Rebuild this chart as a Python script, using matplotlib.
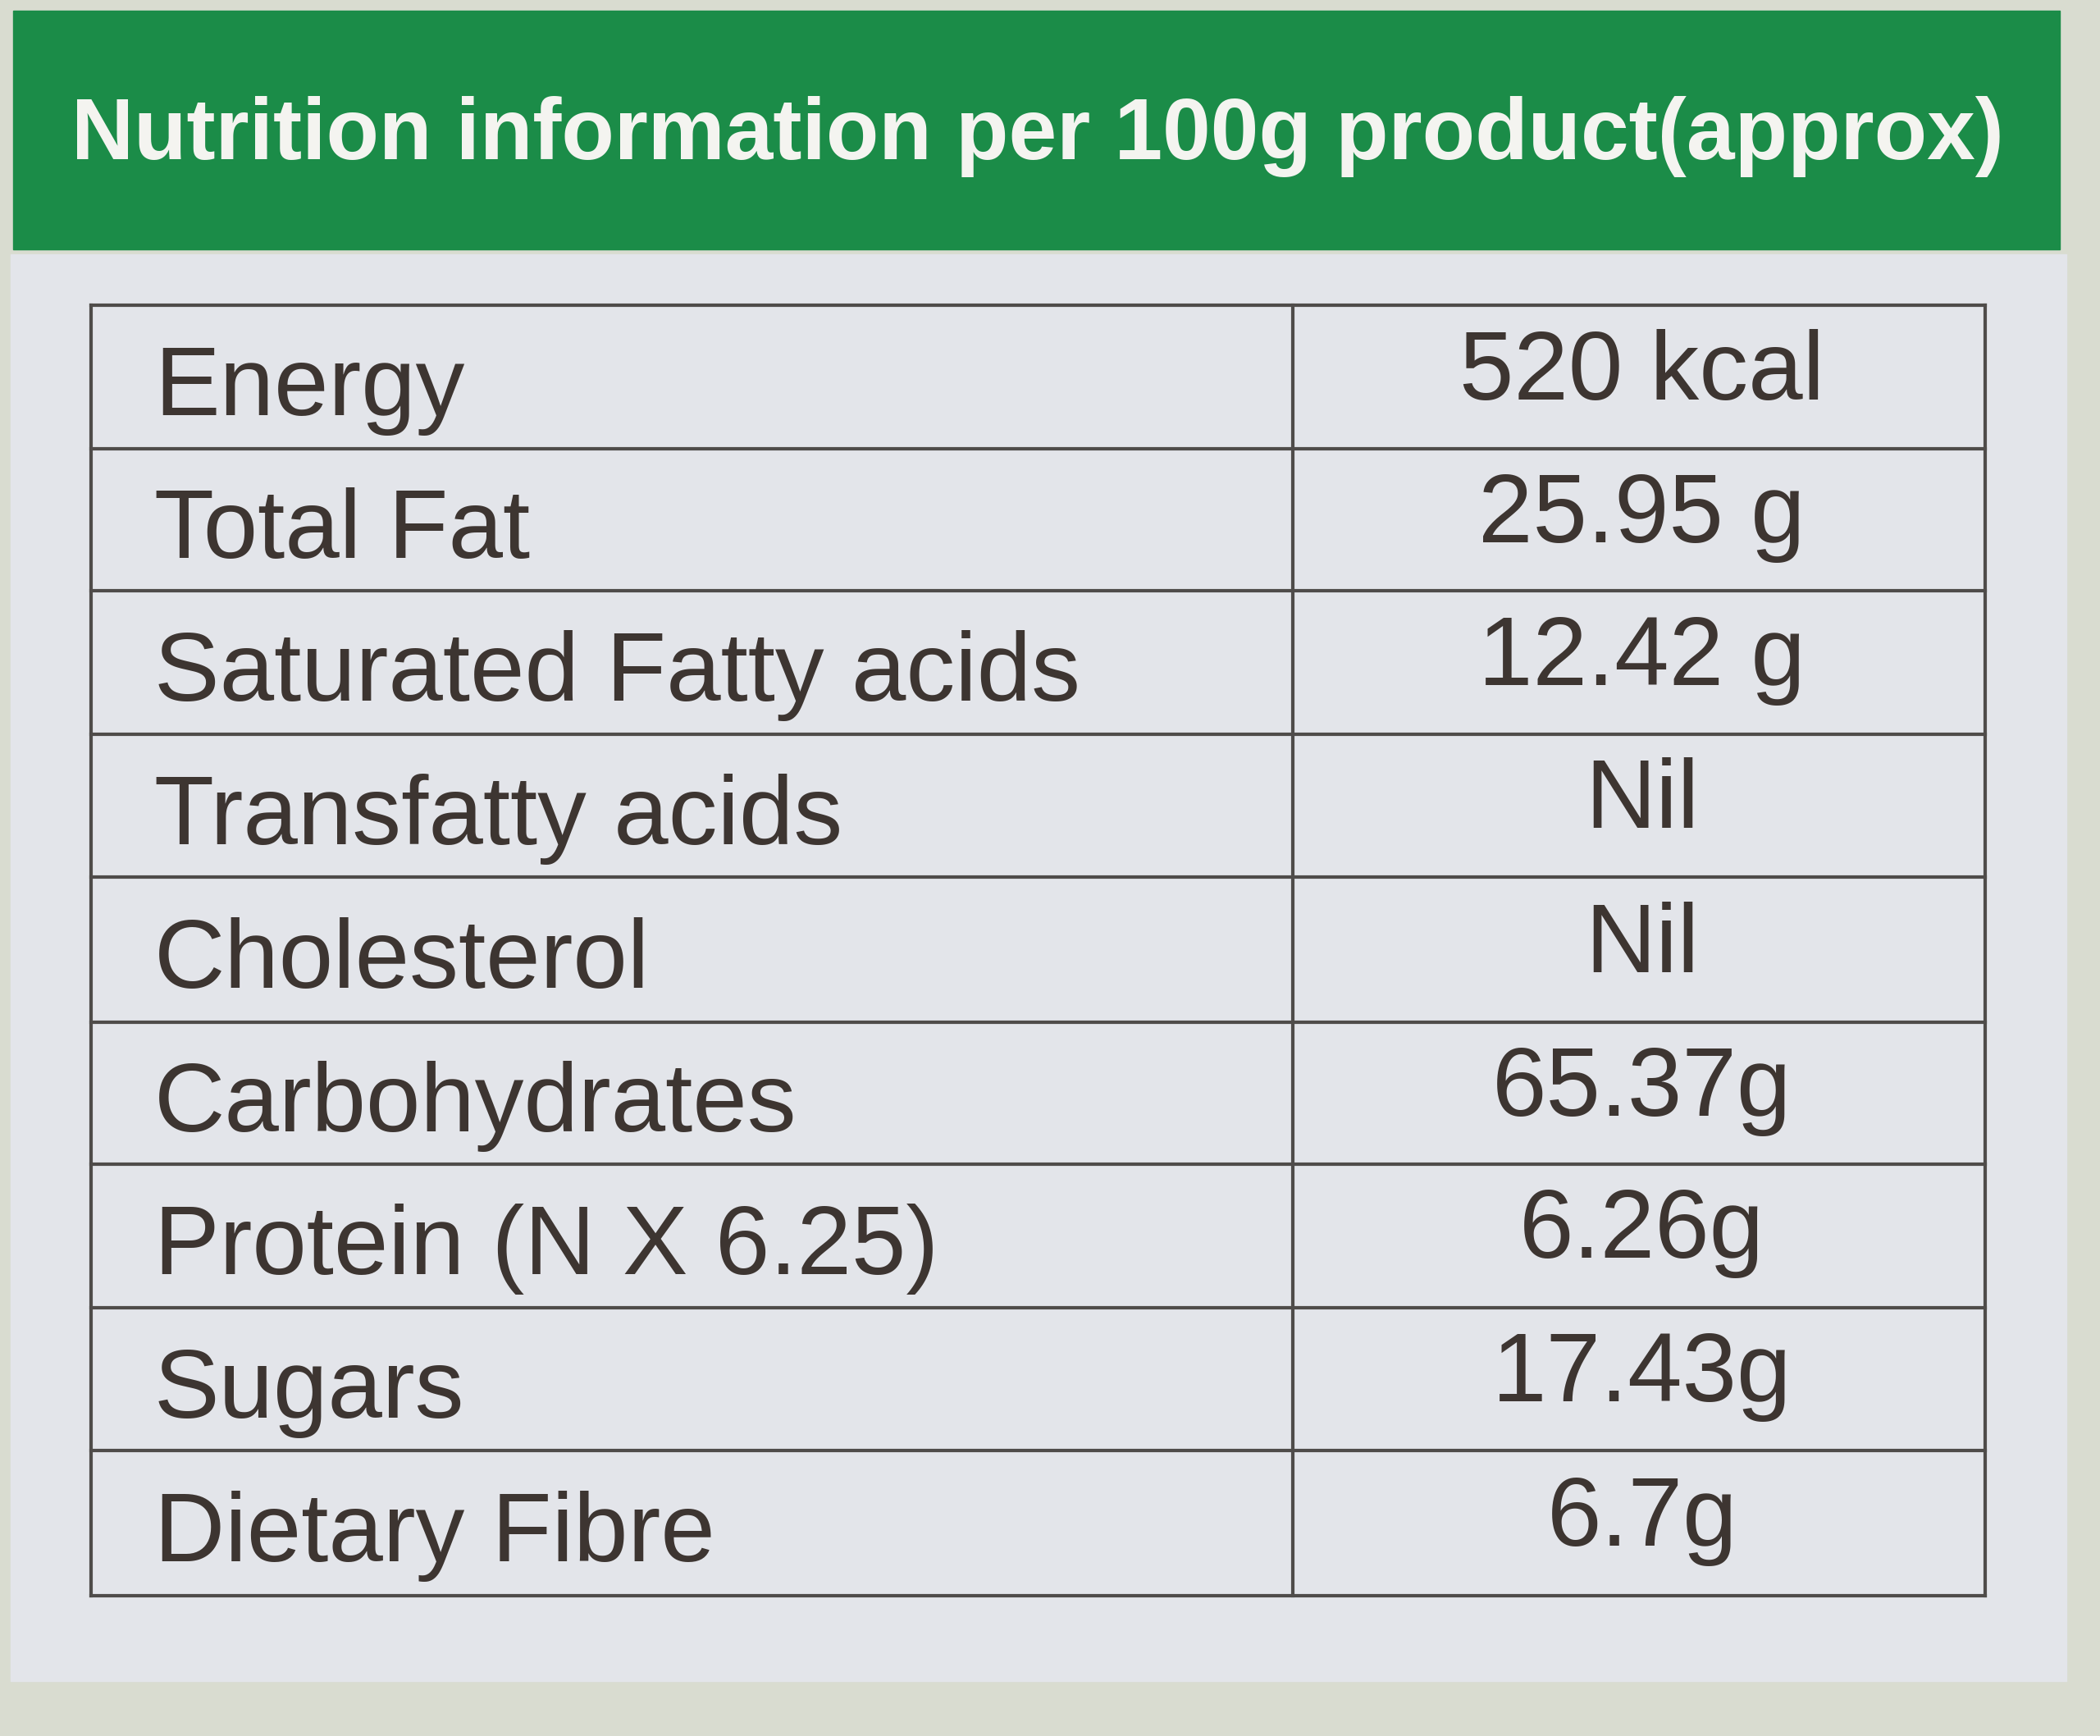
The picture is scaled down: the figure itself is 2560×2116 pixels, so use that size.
import matplotlib
matplotlib.use("Agg")
import matplotlib.pyplot as plt
from matplotlib.patches import Rectangle

title = "Nutrition information per 100g product(approx)"
nutrients = ["Energy", "Total Fat", "Saturated Fatty acids", "Transfatty acids",
             "Cholesterol", "Carbohydrates", "Protein (N X 6.25)", "Sugars", "Dietary Fibre"]
amounts = ["520 kcal", "25.95 g", "12.42 g", "Nil", "Nil", "65.37g", "6.26g", "17.43g", "6.7g"]

W, H = 1568, 1296
fig = plt.figure(figsize=(25.6, 21.16), dpi=100)
fig.patch.set_facecolor("#d9dcd0")
ax = fig.add_axes([0, 0, 1, 1])
ax.set_xlim(0, W); ax.set_ylim(H, 0); ax.axis("off")

ax.add_patch(Rectangle((8, 190), 1535, 1065, color="#e3e5ea", zorder=0))
ax.add_patch(Rectangle((10, 8), 1528, 178, color="#1b8c48", zorder=1))
ax.text(775, 102, title, color="#f4f4f0", fontsize=76, fontweight="bold",
        family="Liberation Sans", ha="center", va="center", zorder=2)

row_edges = [228, 335, 441, 548, 655, 763, 869, 976, 1083, 1191]
x0, xm, x1 = 68, 965, 1482
tc = "#3d3531"; lc = "#4f4c4a"
for y in row_edges:
    ax.plot([x0, x1], [y, y], color=lc, lw=3, zorder=3)
for x in (x0, xm, x1):
    ax.plot([x, x], [row_edges[0], row_edges[-1]], color=lc, lw=3, zorder=3)
for i, (n, a) in enumerate(zip(nutrients, amounts)):
    yc = (row_edges[i] + row_edges[i + 1]) / 2
    ax.text(115, yc + 10, n, color=tc, fontsize=86, family="Liberation Sans",
            ha="left", va="center")
    ax.text(1226, yc - 2, a, color=tc, fontsize=86, family="Liberation Sans",
            ha="center", va="center")

fig.savefig("out.png", dpi=100, facecolor=fig.get_facecolor())
